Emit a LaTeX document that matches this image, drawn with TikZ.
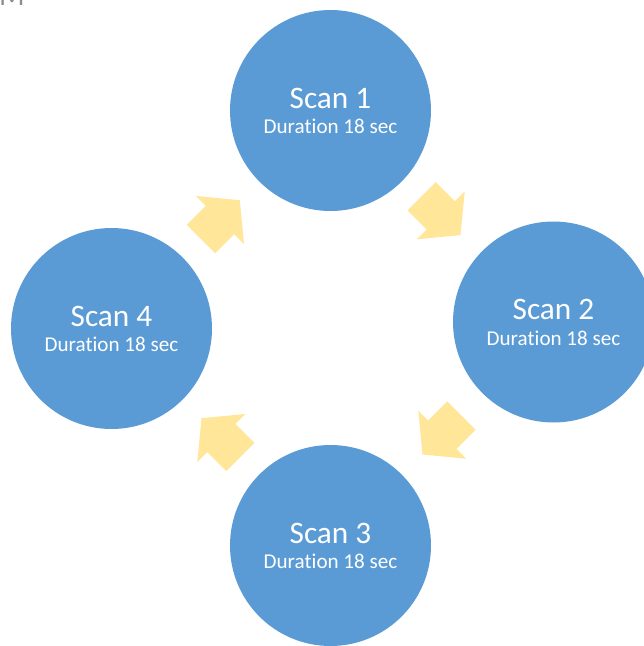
\documentclass[tikz,border=0pt]{standalone}
\usepackage{fontspec}
\setmainfont{Carlito}[Ligatures={NoCommon,NoRare,NoContextual}]
\definecolor{cblue}{HTML}{5B9BD5}
\definecolor{cgold}{HTML}{FFE699}
\definecolor{fraggray}{HTML}{8C8C8C}
\newcommand\cyclearrow[2]{%
  \fill[cgold, shift={(#1)}, rotate=#2]
    (-27pt,-20pt) -- (0pt,-20pt) -- (0pt,-34pt) -- (28pt,0pt) --
    (0pt,34pt) -- (0pt,20pt) -- (-27pt,20pt) -- cycle;}
\begin{document}
\begin{tikzpicture}[x=1pt,y=-1pt,
  scancircle/.style={circle, fill=cblue, minimum size=201pt, inner sep=0pt},
  scantitle/.style={text=white, font=\fontsize{31.3}{32}\selectfont, anchor=base, inner sep=0pt},
  scansub/.style={text=white, font=\fontsize{21.1}{22}\selectfont, anchor=base, inner sep=0pt}]
\useasboundingbox (0,0) rectangle (644,646);
\clip (0,0) rectangle (644,646);
% fragment of a cut-off title
\node[text=fraggray, font=\fontsize{30}{30}\selectfont, anchor=base west, inner sep=0pt] (frag) at (-1,5.5) {M};
% circles
\node[scancircle] (s1) at (330.5,110.5) {};
\node[scancircle] (s2) at (553.5,322) {};
\node[scancircle] (s3) at (330.5,545.5) {};
\node[scancircle] (s4) at (111.5,328.5) {};
% texts
\foreach \n in {1,2,3,4}{
  \node[scantitle] (s\n t) at ([yshift=2.5pt]s\n.center) {Scan \n};
  \node[scansub] (s\n d) at ([yshift=-23pt]s\n.center) {Durat\kern0pt ion 18 sec};
}
% arrows
\cyclearrow{220,220}{45}
\cyclearrow{440.7,215.3}{-45}
\cyclearrow{442.3,434.7}{-135}
\cyclearrow{221.3,438}{135}
\end{tikzpicture}
\end{document}
